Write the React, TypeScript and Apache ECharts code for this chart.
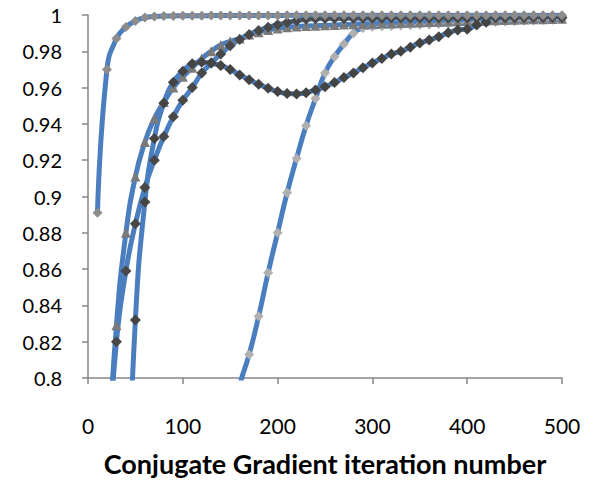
import React, { useEffect, useRef } from "react";
import * as echarts from "echarts";

const iterations = [
  10, 20, 30, 40, 50, 60, 70, 80, 90, 100,
  110, 120, 130, 140, 150, 160, 170, 180, 190, 200,
  210, 220, 230, 240, 250, 260, 270, 280, 290, 300,
  310, 320, 330, 340, 350, 360, 370, 380, 390, 400,
  410, 420, 430, 440, 450, 460, 470, 480, 490, 500,
];

const fastRun = [
  0.891, 0.970, 0.987, 0.9934, 0.9967, 0.9986, 0.9992, 0.9994, 0.9995, 0.9996,
  0.9996, 0.9996, 0.9997, 0.9997, 0.9997, 0.9997, 0.9997, 0.9997, 0.9997, 0.9997,
  0.9998, 0.9998, 0.9998, 0.9998, 0.9998, 0.9998, 0.9998, 0.9998, 0.9998, 0.9998,
  0.9998, 0.9998, 0.9998, 0.9998, 0.9998, 0.9998, 0.9998, 0.9998, 0.9998, 0.9998,
  0.9999, 0.9999, 0.9999, 0.9999, 0.9999, 0.9999, 0.9999, 0.9999, 0.9999, 0.9999,
];

const triangleRun = [
  null, 0.745, 0.829, 0.880, 0.911, 0.930, 0.943, 0.952, 0.960, 0.966,
  0.971, 0.976, 0.980, 0.9835, 0.9855, 0.987, 0.9892, 0.9905, 0.9918, 0.9926,
  0.9932, 0.9936, 0.9939, 0.9941, 0.9943, 0.9945, 0.9947, 0.9949, 0.9951, 0.9952,
  0.9954, 0.9955, 0.9957, 0.9958, 0.996, 0.9961, 0.9963, 0.9964, 0.9966, 0.9967,
  0.9969, 0.997, 0.9971, 0.9973, 0.9974, 0.9975, 0.9976, 0.9977, 0.9978, 0.9979,
];

const darkRun = [
  null, 0.745, 0.820, 0.859, 0.885, 0.905, 0.920, 0.933, 0.944, 0.953,
  0.960, 0.968, 0.9735, 0.9785, 0.983, 0.9865, 0.9893, 0.9915, 0.9932, 0.9946,
  0.9958, 0.9968, 0.9976, 0.998, 0.9981, 0.9981, 0.9981, 0.9982, 0.9982, 0.9982,
  0.9982, 0.9983, 0.9983, 0.9983, 0.9983, 0.9984, 0.9984, 0.9984, 0.9984, 0.9984,
  0.9985, 0.9985, 0.9985, 0.9985, 0.9985, 0.9986, 0.9986, 0.9986, 0.9986, 0.9986,
];

const humpRun = [
  null, null, null, 0.70, 0.832, 0.897, 0.932, 0.9515, 0.963, 0.969,
  0.9732, 0.974, 0.9735, 0.9722, 0.970, 0.967, 0.9643, 0.9618, 0.9596, 0.9578,
  0.9567, 0.9565, 0.9572, 0.9587, 0.9605, 0.9628, 0.9655, 0.968, 0.971, 0.9735,
  0.976, 0.9785, 0.980, 0.9823, 0.9846, 0.9862, 0.988, 0.9902, 0.9917, 0.9922,
  0.9945, 0.996, null, null, null, null, null, null, null, null,
];

const lateRun = [
  null, null, null, null, null, null, null, null, null, null,
  null, null, null, null, 0.772, 0.796, 0.813, 0.834, 0.858, 0.880,
  0.902, 0.921, 0.939, 0.954, 0.968, 0.977, 0.984, 0.990, 0.9928, 0.9935,
  0.9938, 0.994, 0.9942, 0.9944, 0.9946, 0.9948, 0.995, 0.9952, 0.9954, 0.9956,
  0.9958, 0.996, 0.9962, 0.9964, 0.9966, 0.9968, 0.997, 0.9972, 0.9974, 0.9976,
];

const xTicks = { min: 0, max: 500, interval: 100 };
const yTicks = { min: 0.8, max: 1, interval: 0.02 };
const xTitle = "Conjugate Gradient iteration number";

const FONT = "Lato";
const LINE_BLUE = "#4a7ebf";
const AXIS_GRAY = "#868686";

function pairs(values: (number | null)[]) {
  return iterations.map((x, i) => [x, values[i]]);
}

function makeSeries(values: (number | null)[], symbol: string, color: string, size: number) {
  return {
    type: "line",
    data: pairs(values),
    smooth: 0.5,
    symbol,
    symbolSize: size,
    showSymbol: true,
    clip: true,
    connectNulls: false,
    lineStyle: { color: LINE_BLUE, width: 5 },
    itemStyle: { color, borderWidth: 0 },
    emphasis: { disabled: true },
  };
}

export default function App() {
  const ref = useRef<HTMLDivElement>(null);

  useEffect(() => {
    document.body.style.margin = "0";
    if (!ref.current) return;
    const chart = echarts.init(ref.current, undefined, { renderer: "svg" });
    chart.setOption({
      animation: false,
      backgroundColor: "#ffffff",
      grid: { left: 88, right: 33, top: 15, bottom: 113, containLabel: false },
      xAxis: {
        type: "value",
        ...xTicks,
        name: xTitle,
        nameLocation: "middle",
        nameGap: 72,
        nameTextStyle: { fontFamily: FONT, fontWeight: "bold", fontSize: 27, color: "#000" },
        axisLine: { show: true, lineStyle: { color: AXIS_GRAY, width: 1.5 } },
        axisTick: { show: true, inside: false, length: 6, lineStyle: { color: AXIS_GRAY, width: 1.5 } },
        axisLabel: { margin: 37, fontFamily: FONT, fontSize: 21, color: "#000" },
        splitLine: { show: false },
      },
      yAxis: {
        type: "value",
        ...yTicks,
        axisLine: { show: true, lineStyle: { color: AXIS_GRAY, width: 1.5 } },
        axisTick: { show: true, inside: false, length: 6, lineStyle: { color: AXIS_GRAY, width: 1.5 } },
        axisLabel: {
          margin: 26,
          fontFamily: FONT,
          fontSize: 20,
          color: "#000",
          formatter: (v: number) => String(+v.toFixed(2)),
        },
        splitLine: { show: false },
      },
      series: [
        makeSeries(lateRun, "diamond", "#b0b0b0", 10),
        makeSeries(triangleRun, "triangle", "#7a7a7a", 10),
        makeSeries(darkRun, "diamond", "#484848", 11),
        makeSeries(humpRun, "diamond", "#444444", 11),
        makeSeries(fastRun, "diamond", "#8c8c8c", 10),
      ],
    });
    return () => chart.dispose();
  }, []);

  return <div ref={ref} style={{ width: 595, height: 491 }} />;
}
